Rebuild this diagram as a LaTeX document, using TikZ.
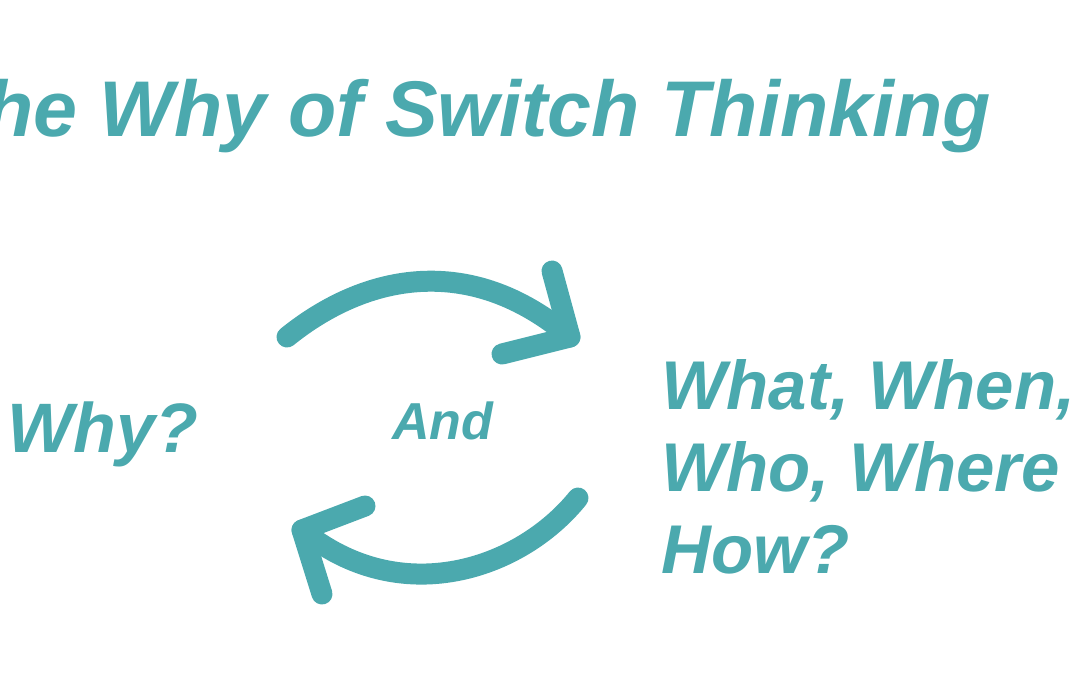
\documentclass[tikz,border=0pt]{standalone}
\usepackage{fontspec}
\setmainfont{Liberation Sans}
\usepackage{xcolor}
\definecolor{teal}{HTML}{4BA9AE}
\usepackage{tikz}

\begin{document}
\begin{tikzpicture}[x=0.5pt,y=-0.5pt,
    label/.style={text=teal,font=\bfseries\itshape,inner sep=0pt},
    swirl/.style={draw=teal,line width=10.5pt,line cap=round,line join=round}]
    \useasboundingbox (0,0) rectangle (1080,675);
    \clip (0,0) rectangle (1080,675);
    \node[label,anchor=base west,font=\fontsize{39.5}{47}\bfseries\itshape]
      (title) at (-63,136) {The Why of Switch Thinking};
    \node[label,anchor=base west,font=\fontsize{35}{41}\bfseries\itshape]
      (why) at (7,452) {Why?};
    \node[label,anchor=base west,font=\fontsize{26}{31}\bfseries\itshape]
      (and) at (392,439) {And};
    \node[label,anchor=base west,align=left,
      font=\fontsize{34.5}{41}\bfseries\itshape]
      (what) at (661,573) {What, When,\\Who, Where\\How?};
    % forward arrow
    \coordinate (fstart) at (287,337);
    \coordinate (ftip) at (570,337);
    \draw[swirl] (fstart) .. controls (365,274) and (470,252) .. (ftip);
    \draw[swirl] (552,271) -- (ftip) -- (502,354);
    % backward arrow
    \coordinate (bstart) at (578,498);
    \coordinate (btip) at (302,530);
    \draw[swirl] (bstart) .. controls (520,570) and (400,610) .. (btip);
    \draw[swirl] (365,506) -- (btip) -- (322,594);
  \end{tikzpicture}
\end{document}
